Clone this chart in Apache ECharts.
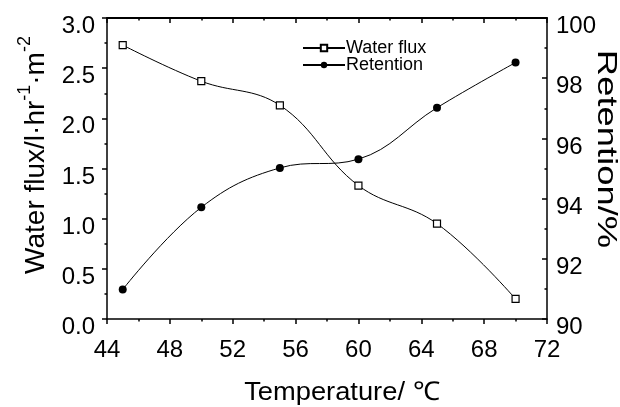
<!DOCTYPE html>
<html>
<head>
<meta charset="utf-8">
<script src="https://cdn.jsdelivr.net/npm/echarts@6/dist/echarts.min.js"></script>
<style>
  html, body { margin: 0; padding: 0; background: #fff; }
  #chart { width: 620px; height: 407px; }
</style>
</head>
<body>
<div id="chart"></div>
<script>
// Membrane performance versus feed temperature
const temperature = [45, 50, 55, 60, 65, 70];
const waterFlux = [2.73, 2.37, 2.13, 1.33, 0.95, 0.20];
const retention = [90.98, 93.71, 95.02, 95.31, 97.02, 98.52];

const FONT = '"Liberation Sans", Arial, sans-serif';
const INK = '#000';

const chart = echarts.init(document.getElementById('chart'), null, { renderer: 'canvas' });

const axisLine = { show: true, lineStyle: { color: INK, width: 1.5 } };
const tickStyle = { color: INK, width: 1.5 };

// y tick labels sit slightly below their ticks
const lowered = { v: { fontFamily: FONT, fontSize: 24, color: INK, lineHeight: 24, padding: [17, 0, 0, 0] } };

const option = {
  animation: false,
  backgroundColor: '#fff',
  grid: { left: 107, right: 73, top: 18, bottom: 88, containLabel: false, outerBoundsMode: 'none' },
  legend: {
    orient: 'vertical',
    left: 297,
    top: 34,
    itemWidth: 42,
    itemHeight: 8,
    itemGap: -1,
    textStyle: { fontFamily: FONT, fontSize: 18, lineHeight: 18, color: INK, padding: [0, 0, 0, -4] },
    data: ['Water flux', 'Retention']
  },
  xAxis: [
    {
      type: 'value', min: 44, max: 72, interval: 4, position: 'bottom',
      axisLine,
      axisTick: { show: true, inside: false, length: 5, lineStyle: tickStyle },
      minorTick: { show: true, splitNumber: 2, length: 2.5, lineStyle: tickStyle },
      axisLabel: { fontFamily: FONT, fontSize: 24, color: INK, margin: 19 },
      splitLine: { show: false }
    },
    {
      type: 'value', min: 44, max: 72, interval: 4, position: 'top',
      axisLine: { show: true, lineStyle: { color: INK, width: 2 } },
      axisTick: { show: true, inside: true, length: 5, lineStyle: tickStyle },
      minorTick: { show: true, splitNumber: 2, length: 2.5, lineStyle: tickStyle },
      axisLabel: { show: false },
      splitLine: { show: false }
    }
  ],
  yAxis: [
    {
      type: 'value', min: 0, max: 3, interval: 0.5, position: 'left',
      axisLine,
      axisTick: { show: true, inside: false, length: 5, lineStyle: tickStyle },
      minorTick: { show: true, splitNumber: 2, length: 2.5, lineStyle: tickStyle },
      axisLabel: {
        margin: 12,
        formatter: v => '{v|' + v.toFixed(1) + '}',
        rich: lowered
      },
      splitLine: { show: false }
    },
    {
      type: 'value', min: 90, max: 100, interval: 2, position: 'right',
      axisLine,
      axisTick: { show: true, inside: true, length: 5, lineStyle: tickStyle },
      minorTick: { show: true, splitNumber: 2, length: 2.5, lineStyle: tickStyle },
      axisLabel: {
        margin: 9,
        formatter: v => '{v|' + v + '}',
        rich: lowered
      },
      splitLine: { show: false }
    }
  ],
  series: [
    {
      name: 'Water flux',
      type: 'line',
      xAxisIndex: 0, yAxisIndex: 0,
      smooth: 0.4,
      data: temperature.map((t, i) => [t, waterFlux[i]]),
      symbol: 'rect',
      symbolSize: 7,
      lineStyle: { color: INK, width: 1 },
      itemStyle: { color: '#fff', borderColor: INK, borderWidth: 1.2 }
    },
    {
      name: 'Retention',
      type: 'line',
      xAxisIndex: 0, yAxisIndex: 1,
      smooth: 0.4,
      data: temperature.map((t, i) => [t, retention[i]]),
      symbol: 'circle',
      symbolSize: 8,
      lineStyle: { color: INK, width: 1 },
      itemStyle: { color: INK, borderColor: INK, borderWidth: 0 }
    }
  ],
  graphic: [
    {
      type: 'text',
      x: 342, y: 393,
      scaleX: 1.05,
      style: {
        text: 'Temperature/ ℃',
        font: '26px ' + FONT,
        fill: INK,
        align: 'center',
        verticalAlign: 'middle'
      }
    },
    {
      type: 'text',
      x: 33, y: 155,
      rotation: Math.PI / 2,
      style: {
        text: '{n|Water flux/l·hr}{s|-1}{n|·m}{s|-2}',
        fill: INK,
        align: 'center',
        verticalAlign: 'middle',
        rich: {
          n: { fontFamily: FONT, fontSize: 28, lineHeight: 34, verticalAlign: 'bottom', fill: INK },
          s: { fontFamily: FONT, fontSize: 18, lineHeight: 18, verticalAlign: 'top', fill: INK }
        }
      }
    },
    {
      type: 'text',
      x: 606, y: 149,
      rotation: -Math.PI / 2,
      scaleX: 1.3,
      style: {
        text: 'Retention/%',
        font: '28px ' + FONT,
        fill: INK,
        align: 'center',
        verticalAlign: 'middle'
      }
    }
  ]
};

chart.setOption(option);
</script>
</body>
</html>
